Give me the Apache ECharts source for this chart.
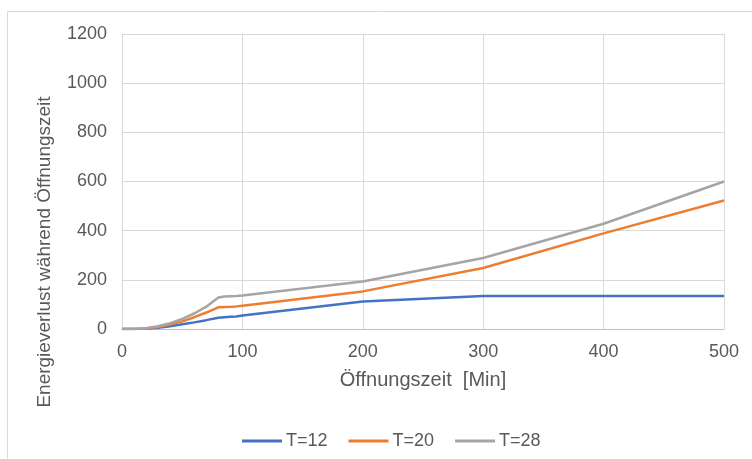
<!DOCTYPE html>
<html>
<head>
<meta charset="utf-8">
<script src="https://cdn.jsdelivr.net/npm/echarts@6/dist/echarts.min.js"></script>
<style>
  html, body { margin: 0; padding: 0; background: #fff; }
  #chart { width: 752px; height: 459px; }
</style>
</head>
<body>
<div id="chart"></div>
<script>
// Opening time in minutes
const openingTime = [0, 10, 20, 30, 40, 50, 60, 70, 80, 85, 90, 95, 100, 200, 300, 400, 500];
// Energy loss during opening time per temperature
const lossT12 = [0, 0, 1, 5, 11, 19, 27, 36, 46, 48, 50, 51, 55, 112, 134, 134, 134];
const lossT20 = [0, 0, 2, 8, 18, 31, 48, 67, 88, 89, 90, 92, 95, 153, 248, 389, 523];
const lossT28 = [0, 0, 3, 11, 24, 41, 63, 91, 128, 132, 133, 134, 136, 193, 289, 428, 600];
const seriesNames = ['T=12', 'T=20', 'T=28'];
const xTicks = [0, 100, 200, 300, 400, 500];
const yTicks = [0, 200, 400, 600, 800, 1000, 1200];
const xTitle = 'Öffnungszeit  [Min]';
const yTitle = 'Energieverlust während Öffnungszeit';

const toPairs = (ys) => openingTime.map((x, i) => [x, ys[i]]);

const chart = echarts.init(document.getElementById('chart'), null, { renderer: 'canvas' });
const textColor = '#595959';
const fontFamily = 'Liberation Sans, Arial, sans-serif';

chart.setOption({
  animation: false,
  backgroundColor: '#ffffff',
  graphic: [
    {
      type: 'rect',
      shape: { x: 7.5, y: 11.5, width: 800, height: 500 },
      style: { fill: 'none', stroke: '#d9d9d9', lineWidth: 1 },
      silent: true
    },
    {
      type: 'text',
      x: 45,
      y: 252,
      rotation: Math.PI / 2,
      style: {
        text: yTitle,
        fill: textColor,
        font: '19px ' + fontFamily,
        align: 'center',
        verticalAlign: 'middle'
      },
      silent: true
    }
  ],
  grid: { left: 122, right: 28, top: 34, bottom: 130 },
  legend: {
    left: 237,
    top: 427,
    itemWidth: 40,
    itemHeight: 3,
    itemGap: 21,
    icon: 'rect',
    textStyle: { color: textColor, fontSize: 18, fontFamily: fontFamily, padding: [0, 0, 0, -1] },
    data: seriesNames
  },
  xAxis: {
    type: 'value',
    min: xTicks[0],
    max: xTicks[xTicks.length - 1],
    interval: 100,
    name: xTitle,
    nameLocation: 'middle',
    nameGap: 41,
    nameTextStyle: { color: textColor, fontSize: 20, fontFamily: fontFamily },
    axisLine: { show: true, lineStyle: { color: '#bfbfbf', width: 1 } },
    axisTick: { show: false },
    axisLabel: { color: textColor, fontSize: 18, fontFamily: fontFamily, margin: 14 },
    splitLine: { show: true, lineStyle: { color: '#d9d9d9', width: 1 } }
  },
  yAxis: {
    type: 'value',
    min: yTicks[0],
    max: yTicks[yTicks.length - 1],
    interval: 200,
    axisLine: { show: false },
    axisTick: { show: false },
    axisLabel: {
      color: textColor, fontSize: 18, fontFamily: fontFamily, margin: 15,
      formatter: (v) => String(v)
    },
    splitLine: { show: true, lineStyle: { color: '#d9d9d9', width: 1 } }
  },
  series: [
    { name: seriesNames[0], type: 'line', data: toPairs(lossT12), showSymbol: false, symbol: 'none',
      lineStyle: { color: '#4472c4', width: 2.5 }, itemStyle: { color: '#4472c4' } },
    { name: seriesNames[1], type: 'line', data: toPairs(lossT20), showSymbol: false, symbol: 'none',
      lineStyle: { color: '#ed7d31', width: 2.5 }, itemStyle: { color: '#ed7d31' } },
    { name: seriesNames[2], type: 'line', data: toPairs(lossT28), showSymbol: false, symbol: 'none',
      lineStyle: { color: '#a5a5a5', width: 2.5 }, itemStyle: { color: '#a5a5a5' } }
  ]
});
</script>
</body>
</html>
